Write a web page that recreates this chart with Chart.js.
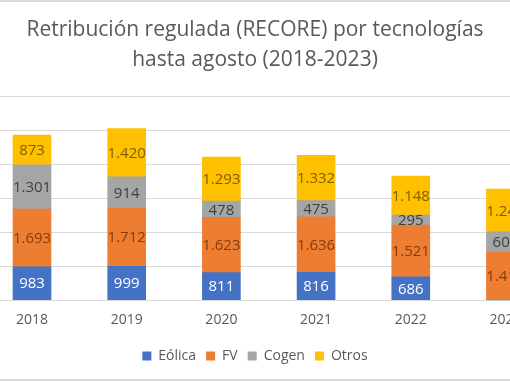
<!DOCTYPE html>
<html>
<head>
<meta charset="utf-8">
<script src="https://cdn.jsdelivr.net/npm/chart.js@4/dist/chart.umd.min.js"></script>
<style>
    html, body { margin: 0; padding: 0; background: #fff; }
    #wrap { position: relative; width: 510px; height: 382px; overflow: hidden; }
    /* the original picture is a crop of a wider chart: canvas sticks out on both sides */
    #recore { position: absolute; left: -50px; top: 0; }
</style>
</head>
<body>
<div id="wrap"><canvas id="recore" width="610" height="382"></canvas></div>
<script>
        // Chart data (values in M€)
        const years = [2018, 2019, 2020, 2021, 2022, 2023];
        const eolica = [983, 999, 811, 816, 686, 0];
        const fv = [1693, 1712, 1623, 1636, 1521, 1415];
        const cogen = [1301, 914, 478, 475, 295, 605];
        const otros = [873, 1420, 1293, 1332, 1148, 1245];
        const yTicks = [0, 1000, 2000, 3000, 4000, 5000, 6000];

        const fontFamily = "'Open Sans', 'Noto Sans', sans-serif";
        const textGray = '#595959';

        // Spanish thousands separator (1.693)
        function fmt(v) {
            return String(v).replace(/\B(?=(\d{3})+(?!\d))/g, '.');
        }

        // Value labels centered in each segment
        const segmentLabels = {
            id: 'segmentLabels',
            afterDatasetsDraw(chart) {
                const ctx = chart.ctx;
                ctx.save();
                ctx.font = '15px ' + fontFamily;
                ctx.textAlign = 'center';
                ctx.textBaseline = 'middle';
                chart.data.datasets.forEach((ds, i) => {
                    const meta = chart.getDatasetMeta(i);
                    meta.data.forEach((bar, j) => {
                        const v = ds.data[j].y;
                        if (!v) return;
                        ctx.fillStyle = ds.labelColor;
                        ctx.fillText(fmt(v), bar.x, (bar.y + bar.base) / 2 + 1);
                    });
                });
                ctx.restore();
            }
        };

        // Light outer frame lines of the original chart box
        const frame = {
            id: 'frame',
            beforeDraw(chart) {
                const ctx = chart.ctx;
                ctx.save();
                ctx.strokeStyle = '#d9d9d9';
                ctx.lineWidth = 2;
                ctx.beginPath();
                ctx.moveTo(0, 1); ctx.lineTo(chart.width, 1);
                ctx.moveTo(0, 380); ctx.lineTo(chart.width, 380);
                ctx.stroke();
                ctx.restore();
            }
        };

        function series(label, values, color, labelColor) {
            return {
                label: label,
                data: values.map((v, i) => ({ x: years[i], y: v })),
                backgroundColor: color,
                labelColor: labelColor,
                barThickness: 38
            };
        }

        new Chart(document.getElementById('recore'), {
            type: 'bar',
            data: {
                datasets: [
                    series('Eólica', eolica, '#4472C4', '#ffffff'),
                    series('FV', fv, '#ED7D31', '#843C0C'),
                    series('Cogen', cogen, '#A5A5A5', '#404040'),
                    series('Otros', otros, '#FFC000', '#7F6000')
                ]
            },
            options: {
                responsive: false,
                animation: false,
                layout: { padding: { top: 0, bottom: 9, left: 0, right: 0 } },
                plugins: {
                    title: {
                        display: true,
                        text: ['Retribución regulada (RECORE) por tecnologías', 'hasta agosto (2018-2023)'],
                        color: textGray,
                        font: { family: fontFamily, size: 21, weight: 'normal', lineHeight: 1.43 },
                        padding: { top: 15, bottom: 21 }
                    },
                    legend: {
                        position: 'bottom',
                        labels: {
                            color: textGray,
                            font: { family: fontFamily, size: 14 },
                            boxWidth: 9,
                            boxHeight: 9,
                            padding: 10
                        }
                    },
                    tooltip: { enabled: false }
                },
                scales: {
                    x: {
                        type: 'linear',
                        stacked: true,
                        offset: false,
                        bounds: 'data',
                        min: 2017.134,
                        max: 2023.576,
                        grid: { display: false, drawTicks: false },
                        border: { color: '#d9d9d9' },
                        afterBuildTicks(scale) {
                            scale.ticks = years.map(y => ({ value: y }));
                        },
                        ticks: {
                            color: textGray,
                            font: { family: fontFamily, size: 14 },
                            padding: 11,
                            maxRotation: 0,
                            callback: (v) => String(v)
                        }
                    },
                    y: {
                        stacked: true,
                        min: 0,
                        max: 6000,
                        afterBuildTicks(scale) {
                            scale.ticks = yTicks.map(v => ({ value: v }));
                        },
                        afterFit(scale) { scale.width = 0; },
                        ticks: { display: false },
                        grid: { color: '#d9d9d9', drawTicks: false },
                        border: { display: false }
                    }
                }
            },
            plugins: [frame, segmentLabels]
        });
</script>
</body>
</html>
